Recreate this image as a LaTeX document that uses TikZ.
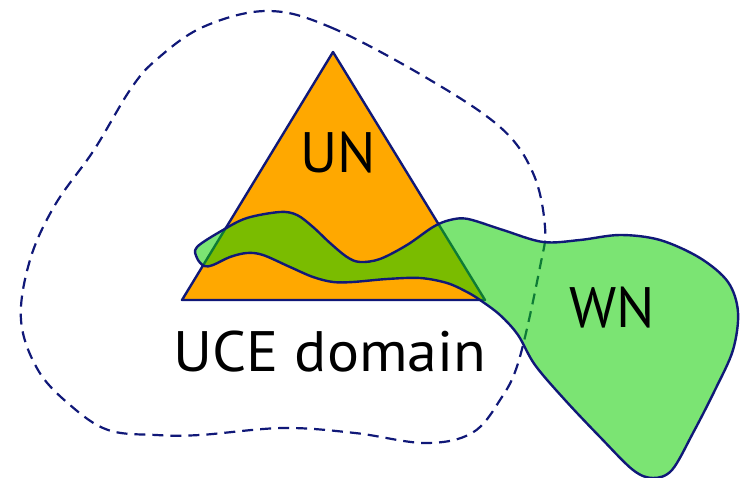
\documentclass[tikz,border=0pt]{standalone}
\usepackage{fontspec}
\setmainfont{PT Sans}
\definecolor{navy}{RGB}{16,24,120}
\definecolor{uorange}{RGB}{255,168,0}
\definecolor{wgreen}{RGB}{14,206,0}
\tikzset{
  outline/.style={draw=navy, line width=2.4pt, line join=round},
  domainline/.style={draw=navy, line width=2.2pt, dash pattern=on 11pt off 7pt},
  label/.style={font=\fontsize{57}{60}\selectfont, anchor=base, inner sep=0pt}
}
\begin{document}
\begin{tikzpicture}[x=1pt,y=-1pt]
\useasboundingbox (0,0) rectangle (740,478);
% dashed UCE domain
\draw[domainline] plot[smooth cycle, tension=0.6] coordinates {
 (267,11) (330,27) (425,77) (500,127) (533,173) (545,227) (540,267)
 (519,360) (500,400) (472,433) (425,443) (355,433) (283,428) (200,435) (156,435)
 (108,430) (70,405) (38,370) (21,320) (30,260) (55,205) (94,150) (130,90) (156,60) (203,27)};
% triangle UN
\draw[outline, fill=uorange] (333,52) -- (485,300) -- (182,300) -- cycle;
% WN green region
\path[outline, fill=wgreen, fill opacity=0.55] plot[smooth cycle, tension=0.55] coordinates {
 (197,247) (223,230) (247,218) (280,212) (297,215) (313,227) (330,243) (347,257)
 (360,262) (380,259) (407,245) (433,227) (450,220) (468,219) (503,230) (543,242)
 (580,240) (620,235) (660,240) (700,258) (728,282) (738,312) (733,350) (715,390)
 (693,433) (672,470) (653,478) (633,470) (600,437) (565,400) (535,365) (518,335)
 (500,315) (480,300) (467,292) (447,283) (420,278) (387,279) (353,282) (333,282)
 (313,277) (290,267) (263,255) (247,253) (230,257) (213,265) (204,266) (197,258)};
\node[label] (un) at (338,173) {UN};
\node[label] (wn) at (612,328) {WN};
\node[label] (uce) at (330,372) {\scalebox{1.05}[1]{UCE domain}};
\end{tikzpicture}
\end{document}
